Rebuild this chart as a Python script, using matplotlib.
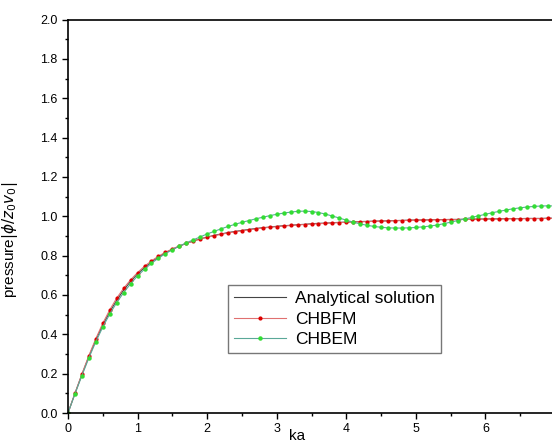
import matplotlib
matplotlib.use("Agg")
import matplotlib.pyplot as plt
import numpy as np

plt.rcParams['font.family'] = ['Liberation Sans', 'DejaVu Sans']

ka = [round(0.1 * i, 1) for i in range(71)]

analytical = [0.000, 0.0995, 0.196, 0.287, 0.371, 0.447, 0.514, 0.573, 0.625, 0.669,
              0.707, 0.740, 0.768, 0.793, 0.814, 0.832, 0.848, 0.862, 0.874, 0.885,
              0.894, 0.903, 0.910, 0.917, 0.923, 0.928, 0.933, 0.938, 0.942, 0.945,
              0.949, 0.952, 0.954, 0.957, 0.959, 0.962, 0.964, 0.965, 0.967, 0.969,
              0.970, 0.972, 0.973, 0.974, 0.975, 0.976, 0.977, 0.978, 0.979, 0.980,
              0.981, 0.981, 0.982, 0.983, 0.983, 0.984, 0.984, 0.985, 0.985, 0.986,
              0.986, 0.987, 0.987, 0.988, 0.988, 0.988, 0.989, 0.989, 0.989, 0.990,
              0.990]

chbfm = [0.000, 0.100, 0.198, 0.292, 0.378, 0.456, 0.524, 0.584, 0.634, 0.677,
         0.714, 0.746, 0.773, 0.797, 0.817, 0.834, 0.849, 0.862, 0.874, 0.884,
         0.893, 0.901, 0.908, 0.915, 0.921, 0.926, 0.931, 0.936, 0.940, 0.944,
         0.947, 0.950, 0.953, 0.956, 0.958, 0.960, 0.962, 0.964, 0.966, 0.968,
         0.969, 0.971, 0.972, 0.973, 0.974, 0.975, 0.976, 0.977, 0.978, 0.979,
         0.980, 0.980, 0.981, 0.982, 0.982, 0.983, 0.983, 0.984, 0.984, 0.985,
         0.985, 0.986, 0.986, 0.987, 0.987, 0.987, 0.988, 0.988, 0.988, 0.989,
         0.989]

chbem = [0.000, 0.097, 0.190, 0.280, 0.362, 0.437, 0.503, 0.561, 0.612, 0.657,
         0.697, 0.731, 0.761, 0.787, 0.810, 0.830, 0.848, 0.865, 0.880, 0.895,
         0.910, 0.923, 0.936, 0.948, 0.959, 0.969, 0.978, 0.987, 0.995, 1.003,
         1.010, 1.016, 1.021, 1.025, 1.026, 1.024, 1.019, 1.011, 1.001, 0.991,
         0.980, 0.970, 0.961, 0.954, 0.948, 0.944, 0.941, 0.940, 0.940, 0.941,
         0.943, 0.946, 0.950, 0.955, 0.962, 0.970, 0.978, 0.986, 0.994, 1.002,
         1.010, 1.018, 1.025, 1.032, 1.038, 1.043, 1.047, 1.050, 1.052, 1.053,
         1.052]

fig = plt.figure(figsize=(5.52, 4.45), dpi=100)
ax = fig.add_axes([68 / 552, 32 / 445, 487 / 552, 393.5 / 445])

ax.plot(ka, analytical, color='#444444', lw=0.8, label='Analytical solution')
ax.plot(ka, chbfm, color='#e07070', lw=0.8, marker='o', ms=2.0,
        mfc='#dd0000', mec='#dd0000', label='CHBFM')
ax.plot(ka, chbem, color='#5aa898', lw=0.8, marker='o', ms=2.2,
        mfc='#33dd33', mec='#33dd33', label='CHBEM')

ax.set_xlim(0, 7)
ax.set_ylim(0, 2.0)
ax.set_xticks(np.arange(0, 7, 1))
ax.set_xticks(np.arange(0.5, 7, 1), minor=True)
ax.set_yticks(np.arange(0, 2.01, 0.2))
ax.set_yticks(np.arange(0.1, 2.0, 0.2), minor=True)
ax.set_yticklabels(['%.1f' % v for v in np.arange(0, 2.01, 0.2)])
ax.tick_params(which='both', direction='out', labelsize=9, width=1.0)
ax.tick_params(which='major', length=4)
ax.tick_params(which='minor', length=2.5)
ax.spines['right'].set_visible(False)
for s in ['left', 'top', 'bottom']:
    ax.spines[s].set_linewidth(1.2)

# x label sits right at the bottom edge, as in the source
fig.text(297 / 552, 2 / 445, 'ka', fontsize=11, ha='center', va='bottom')
ax.set_ylabel(r'pressure$|\phi/z_0v_0|$', fontsize=11)
ax.yaxis.set_label_coords(-0.099, 0.44)

leg = ax.legend(loc='upper left', bbox_to_anchor=(228 / 552, 1 - 285 / 445),
                bbox_transform=fig.transFigure, fontsize=12.5, frameon=True,
                fancybox=False, edgecolor='#555555', handlelength=3.0,
                borderpad=0.35, labelspacing=0.3, handletextpad=0.5,
                borderaxespad=0)
leg.get_frame().set_linewidth(1.0)

fig.savefig('out.png', dpi=100)
